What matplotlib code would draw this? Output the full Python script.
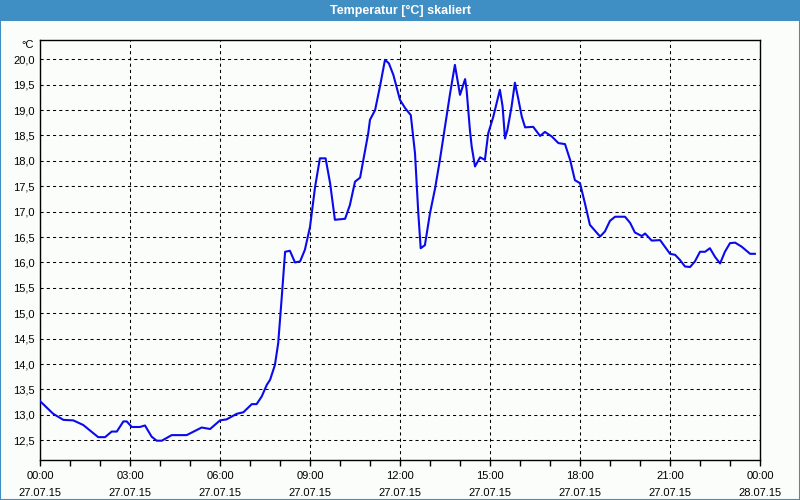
import matplotlib
matplotlib.use("Agg")
import matplotlib.pyplot as plt
from matplotlib.patches import Rectangle
from matplotlib.ticker import MultipleLocator, FixedLocator, FuncFormatter

# ---- data (hours since 27.07.15 00:00, temperature in °C) ----
hours = [0.0, 0.44, 0.78, 1.11, 1.44, 1.94, 2.17, 2.39, 2.56, 2.78, 2.89, 3.06,
         3.33, 3.5, 3.72, 3.89, 4.06, 4.39, 4.89, 5.39, 5.67, 6.0, 6.22, 6.56,
         6.78, 7.06, 7.22, 7.39, 7.56, 7.67, 7.83, 7.94, 8.06, 8.17, 8.33, 8.5,
         8.67, 8.83, 9.0, 9.17, 9.33, 9.52, 9.67, 9.83, 10.17, 10.33, 10.5,
         10.67, 10.78, 10.94, 11.0, 11.17, 11.33, 11.5, 11.63, 11.78, 12.0,
         12.17, 12.36, 12.5, 12.61, 12.69, 12.83, 13.0, 13.17, 13.33, 13.5,
         13.67, 13.83, 14.0, 14.17, 14.22, 14.33, 14.39, 14.5, 14.67, 14.83,
         14.94, 15.11, 15.33, 15.42, 15.5, 15.58, 15.72, 15.83, 15.94, 16.06,
         16.17, 16.44, 16.67, 16.83, 17.06, 17.28, 17.5, 17.67, 17.83, 18.0,
         18.17, 18.33, 18.67, 18.83, 19.0, 19.17, 19.5, 19.67, 19.83, 20.06,
         20.17, 20.39, 20.67, 20.83, 21.0, 21.17, 21.33, 21.5, 21.67, 21.83,
         22.0, 22.17, 22.33, 22.5, 22.67, 22.83, 23.0, 23.17, 23.39, 23.67, 23.83]
temps = [13.27, 13.02, 12.90, 12.89, 12.80, 12.56, 12.56, 12.67, 12.67, 12.87, 12.87, 12.76,
         12.76, 12.79, 12.57, 12.49, 12.49, 12.60, 12.60, 12.75, 12.72, 12.89, 12.91, 13.02,
         13.05, 13.21, 13.21, 13.36, 13.59, 13.69, 13.98, 14.41, 15.33, 16.21, 16.23, 16.00,
         16.02, 16.25, 16.70, 17.49, 18.05, 18.05, 17.56, 16.84, 16.86, 17.13, 17.59,
         17.67, 18.02, 18.54, 18.81, 19.00, 19.46, 19.99, 19.92, 19.69, 19.20,
         19.04, 18.90, 18.15, 16.97, 16.28, 16.34, 16.97, 17.46, 18.02, 18.67,
         19.33, 19.89, 19.30, 19.61, 19.40, 18.61, 18.28, 17.89, 18.07, 18.02,
         18.54, 18.87, 19.40, 19.07, 18.44, 18.61, 19.07, 19.54, 19.23, 18.87,
         18.66, 18.67, 18.49, 18.57, 18.48, 18.35, 18.33, 18.02, 17.62, 17.56,
         17.15, 16.74, 16.51, 16.61, 16.82, 16.90, 16.90, 16.78, 16.59, 16.52,
         16.57, 16.43, 16.44, 16.31, 16.17, 16.15, 16.05, 15.92, 15.91, 16.02,
         16.21, 16.21, 16.28, 16.11, 15.98, 16.21, 16.38, 16.39, 16.31, 16.17, 16.17]

x_tick_hours = [0, 3, 6, 9, 12, 15, 18, 21, 24]
x_tick_labels = ["00:00\n27.07.15", "03:00\n27.07.15", "06:00\n27.07.15",
                 "09:00\n27.07.15", "12:00\n27.07.15", "15:00\n27.07.15",
                 "18:00\n27.07.15", "21:00\n27.07.15", "00:00\n28.07.15"]
y_ticks = [12.5, 13.0, 13.5, 14.0, 14.5, 15.0, 15.5, 16.0, 16.5, 17.0,
           17.5, 18.0, 18.5, 19.0, 19.5, 20.0]
title = "Temperatur [°C] skaliert"
unit = "°C"

plt.rcParams['font.family'] = ['Liberation Sans', 'DejaVu Sans']

BG = '#fbfdfb'
BAR = '#3f8fc5'

fig = plt.figure(figsize=(8, 5), dpi=100, facecolor=BG)
ax = fig.add_axes([40 / 800, 40 / 500, 720 / 800, 420 / 500])
ax.set_facecolor(BG)

ax.plot(hours, temps, color='#0a0aeb', lw=1.5, solid_joinstyle='round', zorder=3)

ax.set_xlim(0, 24)
ax.set_ylim(12.11, 20.38)

ax.xaxis.set_major_locator(FixedLocator(x_tick_hours))
ax.set_xticklabels(x_tick_labels, fontsize=8, linespacing=1.85)
ax.xaxis.set_minor_locator(MultipleLocator(1))
ax.tick_params(axis='x', which='both', direction='out', length=4, width=1,
               color='black', pad=4)

ax.yaxis.set_major_locator(FixedLocator(y_ticks))
ax.yaxis.set_major_formatter(FuncFormatter(lambda v, p: f"{v:.1f}".replace('.', ',')))
ax.tick_params(axis='y', length=0, pad=4, labelsize=8)

ax.grid(True, which='major', color='black', lw=0.75, linestyle=(0, (3, 3)))
for s in ax.spines.values():
    s.set_color('black')
    s.set_linewidth(1)

fig.text(34 / 800, 1 - 45 / 500, unit, ha='right', va='center', fontsize=8)

# title bar
fig.patches.append(Rectangle((0, 1 - 21 / 500), 1, 21 / 500, transform=fig.transFigure,
                             facecolor=BAR, edgecolor='none', zorder=0))
fig.text(0.5, 1 - 10.5 / 500, title, ha='center', va='center', color='white',
         fontsize=9, fontweight='bold')
# outer frame
fig.patches.append(Rectangle((0, 0), 1, 1, transform=fig.transFigure, fill=False,
                             edgecolor=BAR, lw=1.5, zorder=5))

fig.savefig('out.png', dpi=100, facecolor=BG)
